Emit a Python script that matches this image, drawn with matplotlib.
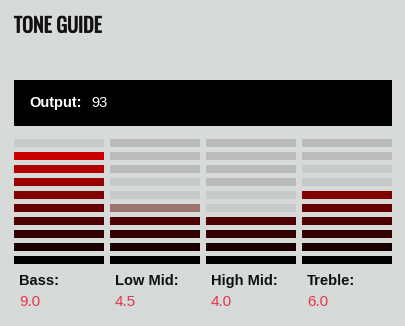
import matplotlib
matplotlib.use("Agg")
import matplotlib.pyplot as plt
import matplotlib.patheffects as pe
from matplotlib import font_manager

# tone settings
bands = ["Bass:", "Low Mid:", "High Mid:", "Treble:"]
levels = [9.0, 4.5, 4.0, 6.0]
output_value = 93
n_segments = 10

bg = "#d6dad8"
dark_off = "#bbbbbb"
light_off = "#c8cac9"

names = {f.name for f in font_manager.fontManager.ttflist}
narrow = [n for n in ["Oswald", "Liberation Sans Narrow", "DejaVu Sans Condensed",
                      "Roboto Condensed", "Liberation Sans"] if n in names]


def seg_color(i):
    r = min(255, round(25.5 * i))
    return "#%02x0000" % r


fig = plt.figure(figsize=(4.05, 3.26), dpi=100, facecolor=bg)
ax = fig.add_axes([0, 0, 1, 1])
ax.set_xlim(0, 405)
ax.set_ylim(326, 0)
ax.axis("off")
ax.set_facecolor(bg)

# title (light stroke to thicken the condensed face)
ax.text(14, 32.5, "TONE GUIDE", fontsize=14.5, fontweight="bold",
        family=narrow[0], fontstretch="condensed", color="#111111",
        va="baseline", ha="left",
        path_effects=[pe.withStroke(linewidth=0.55, foreground="#111111")])

# output box
ax.bar(14, 46, width=378, bottom=80, align="edge", color="black")
ax.text(29, 103, "Output:", fontsize=10.5, fontweight="bold", color="white",
        family="Liberation Sans", va="center", ha="left")
ax.text(91, 103, str(output_value), fontsize=10.5, color="white",
        family="Liberation Sans", va="center", ha="left")

# segment columns
for c, (name, v) in enumerate(zip(bands, levels)):
    x0 = 14 + 96 * c
    full = int(v)
    frac = v - full
    top_lit = full + (1 if frac > 0 else 0)
    for i in range(n_segments):
        y0 = 256 - 13 * i
        if i < full:
            col = seg_color(i)
        elif i < top_lit + 2:
            col = light_off
        else:
            col = dark_off
        ax.bar(x0, 8, width=90, bottom=y0, align="edge", color=col, linewidth=0)
        if i == full and frac > 0:
            ax.bar(x0, 8, width=90, bottom=y0, align="edge",
                   color=seg_color(i), alpha=0.86 * frac, linewidth=0)
    ax.text(x0 + 5, 285, name, fontsize=10.5, fontweight="bold", color="#111111",
            family="Liberation Sans", va="baseline", ha="left")
    ax.text(x0 + 5, 306, "%.1f" % v, fontsize=11, color="#e8334a",
            family="Liberation Sans", va="baseline", ha="left")

fig.savefig("out.png", dpi=100, facecolor=bg)
